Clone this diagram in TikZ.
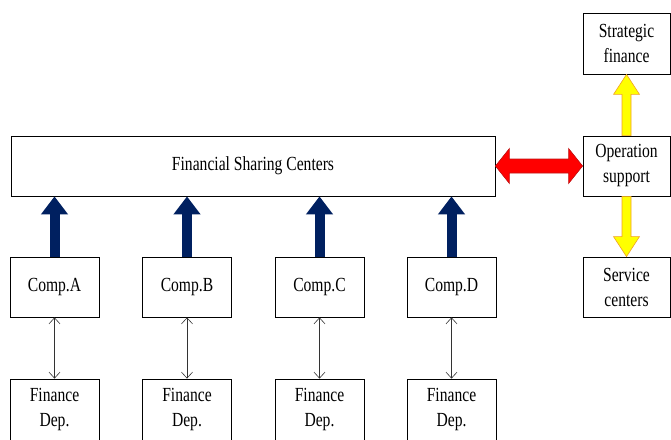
\documentclass[tikz,border=0pt]{standalone}
\usepackage{fontspec}
\setmainfont{Liberation Serif}[FakeStretch=0.78]
\usetikzlibrary{arrows.meta,calc}
\definecolor{navyblue}{RGB}{0,32,96}
\definecolor{yellowfill}{RGB}{255,255,0}
\definecolor{yellowline}{RGB}{240,160,40}
\definecolor{redline}{RGB}{190,20,20}

\begin{document}
\begin{tikzpicture}[x=1pt, y=-1pt,
    box/.style={draw, line width=0.8pt, minimum width=88pt, minimum height=60pt,
      inner sep=0pt, align=center, font=\fontsize{20}{25}\selectfont},
    navyarrow/.style={navyblue, line width=10pt, -{Triangle[width=26pt,length=18pt]}},
    thinarrow/.style={black!80, line width=0.6pt, {Straight Barb[length=6pt,width=11pt]}-{Straight Barb[length=6pt,width=11pt]}},
    yellowarrow/.style={fill=yellowfill, draw=yellowline, line width=0.6pt, line join=miter},
    redarrow/.style={fill=red, draw=redline, line width=0.6pt, line join=miter}]
    \useasboundingbox (0,0) rectangle (671,439);
    \clip (0,0) rectangle (671,439);
    % main boxes
    \node[box, minimum width=484pt] (fsc) at (253,166) {Financial Sharing Centers};
    \node[box, minimum width=87pt, minimum height=61pt] (strat) at (626.5,43.5) {Strategic\\finance};
    \node[box, minimum width=87pt] (ops) at (626.5,166) {Operation\\support};
    \node[box, minimum width=87pt] (serv) at (626.5,287) {Service\\centers};
    % companies and their finance departments
    \foreach \x/\n in {54.5/A, 187/B, 319.5/C, 451.5/D} {
        \node[box, minimum width=89pt] (comp\n) at (\x,287) {Comp.\n};
        \node[box, minimum width=89pt, minimum height=61pt] (fin\n) at (\x,409.5) {Finance\\Dep.};
        \draw[navyarrow] (comp\n.north) -- (comp\n.north |- fsc.south);
        \draw[thinarrow] (comp\n.south) -- (fin\n.north);
    }
    % yellow arrows
    \filldraw[yellowarrow] ($(ops.north)+(-4.5,0)$) -- ($(strat.south)+(-4.5,20)$)
        -- ($(strat.south)+(-13,20)$) -- (strat.south) -- ($(strat.south)+(13,20)$)
        -- ($(strat.south)+(4.5,20)$) -- ($(ops.north)+(4.5,0)$) -- cycle;
    \filldraw[yellowarrow] ($(ops.south)+(-4.5,0)$) -- ($(serv.north)+(-4.5,-20)$)
        -- ($(serv.north)+(-13,-20)$) -- (serv.north) -- ($(serv.north)+(13,-20)$)
        -- ($(serv.north)+(4.5,-20)$) -- ($(ops.south)+(4.5,0)$) -- cycle;
    % red double arrow
    \filldraw[redarrow] (fsc.east) -- ($(fsc.east)+(14,-17.5)$) -- ($(fsc.east)+(14,-7)$)
        -- ($(ops.west)+(-14,-7)$) -- ($(ops.west)+(-14,-17.5)$) -- (ops.west)
        -- ($(ops.west)+(-14,17.5)$) -- ($(ops.west)+(-14,7)$) -- ($(fsc.east)+(14,7)$)
        -- ($(fsc.east)+(14,17.5)$) -- cycle;
\end{tikzpicture}
\end{document}
